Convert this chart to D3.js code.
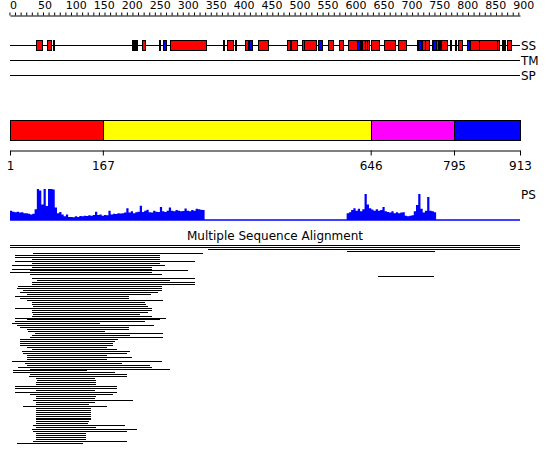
<!DOCTYPE html>
<html>
<head>
<meta charset="utf-8">
<script src="https://cdn.jsdelivr.net/npm/d3@7"></script>
<style>
  body { margin: 0; background: #fff; }
  svg { display: block; font-family: "DejaVu Sans", sans-serif; }
</style>
</head>
<body>
<div id="chart"></div>
<script>
// sequence length
const seqLength = 913;

// ruler labels
const rulerLabels = d3.range(0, 901, 50);

// secondary structure elements (H = helix, E = strand, C = short coil mark)
const ssStart = [47, 67, 78, 219, 221, 237, 268, 275, 288, 381, 389, 404, 421, 428, 445, 497, 503, 524, 527, 552, 569, 590, 605, 622, 628, 631, 636, 640, 646, 670, 695, 728, 731, 737, 743, 755, 757, 763, 768, 771, 787, 797, 802, 818, 824, 840, 872, 880, 885, 889];
const ssEnd   = [57, 74, 79, 221, 229, 242, 269, 280, 353, 382, 400, 405, 426, 433, 462, 503, 514, 527, 549, 560, 578, 598, 622, 628, 630, 636, 640, 644, 661, 689, 710, 731, 737, 743, 750, 757, 763, 767, 769, 782, 788, 798, 810, 822, 840, 872, 875, 881, 886, 897];
const ssType  = ['H', 'H', 'C', 'H', 'C', 'H', 'C', 'E', 'H', 'C', 'H', 'C', 'H', 'E', 'H', 'H', 'H', 'H', 'H', 'E', 'H', 'H', 'H', 'E', 'H', 'H', 'H', 'H', 'H', 'H', 'H', 'H', 'E', 'H', 'H', 'H', 'E', 'H', 'C', 'H', 'C', 'C', 'H', 'E', 'H', 'H', 'H', 'C', 'C', 'H'];

// other tracks
const trackNames = ['SS', 'TM', 'SP'];

// domain boundaries
const domainBounds = [1, 167, 646, 795, 913];
const domainColors = ['#ff0000', '#ffff00', '#ff00ff', '#0000ff'];

// PS profile, 4-residue bins, two regions
const psBin = 4;
const psStart1 = 1;
const psVals1 = [30, 27, 25, 27, 24, 25, 22, 22, 20, 18, 20, 35, 100, 95, 50, 100, 45, 100, 100, 98,
  40, 22, 26, 18, 12, 18, 10, 10, 9, 12, 10, 13, 12, 14, 13, 15, 14, 16, 27, 16,
  18, 14, 16, 15, 30, 18, 20, 19, 22, 21, 22, 24, 38, 24, 28, 22, 25, 27, 46, 26,
  30, 33, 25, 24, 30, 27, 26, 42, 28, 26, 30, 40, 30, 28, 32, 30, 28, 29, 37, 30,
  28, 32, 30, 36, 35, 33, 32];
const psStart2 = 603;
const psVals2 = [22, 25, 32, 38, 30, 36, 28, 35, 84, 50, 38, 34, 30, 35, 30, 32, 42, 28, 26, 24,
  28, 22, 25, 22, 24, 25, 14, 12, 14, 15, 28, 48, 84, 36, 24, 30, 74, 30, 28, 25];

// multiple sequence alignment hits (residue ranges), top to bottom
const msaStart = [1, 1, 355, 603,
  43, 10, 10, 40, 10, 40, 4, 40, 4, 37, 1, 37,
  659,
  40, 49, 40, 40, 16, 13, 25, 19, 31, 10, 19, 31, 40, 40, 43, 10, 40, 40, 43, 40, 10, 31, 10, 4, 13, 19, 31, 34, 46, 40, 37, 19, 19,
  19, 19, 31, 40, 22, 24, 31, 31, 31, 5, 28, 31, 15, 37, 6, 6, 37, 35, 47, 49, 47, 47, 10, 10, 47, 10, 37, 47, 47, 42, 47, 47, 24,
  47, 47, 47, 47, 47, 47, 47, 47, 47, 42, 47, 40, 42, 47, 47, 47, 47, 42, 14];
const msaEnd = [913, 913, 913, 761,
  347, 269, 269, 269, 332, 269, 278, 255, 255, 320, 255, 273,
  759,
  332, 287, 332, 332, 272, 272, 272, 266, 254, 213, 213, 275, 243, 245, 248, 255, 255, 248, 234, 255, 280, 269, 243, 162, 259, 213, 213, 171, 275, 215, 275, 195, 189,
  185, 185, 174, 192, 216, 210, 174, 219, 174, 273, 201, 251, 255, 287, 139, 189, 210, 210, 153, 155, 155, 155, 192, 192, 153, 192, 185, 155, 153, 221, 153, 142, 174,
  146, 146, 146, 146, 146, 146, 146, 142, 140, 207, 155, 228, 210, 137, 137, 137, 137, 210, 132];

const width = 550;
const height = 465;

const svg = d3.select('#chart').append('svg')
  .attr('width', width)
  .attr('height', height);

const x = d3.scaleLinear().domain([1, seqLength]).range([10, 520]);

// Ruler
const ruler = svg.append('g')
  .attr('transform', 'translate(0,15.5)')
  .call(d3.axisTop(x)
    .tickValues(d3.range(0, seqLength, 10))
    .tickSize(3)
    .tickSizeOuter(0)
    .tickPadding(4)
    .tickFormat((d) => (rulerLabels.includes(d) ? d : '')));
ruler.attr('font-family', null).attr('font-size', 11);
ruler.select('.domain').attr('stroke', '#000');
ruler.selectAll('.tick line').attr('stroke', '#000');
ruler.selectAll('.tick text')
  .attr('text-anchor', 'start')
  .attr('fill', '#000');

// Tracks
const trackY = d3.scalePoint().domain(trackNames).range([45, 75]);

trackNames.forEach((name) => {
  const y = trackY(name) + 0.5;
  svg.append('line')
    .attr('x1', x(1)).attr('x2', x(seqLength))
    .attr('y1', y).attr('y2', y)
    .attr('stroke', '#000');
  svg.append('text')
    .attr('x', x(seqLength) + 1)
    .attr('y', y)
    .attr('dy', '0.36em')
    .attr('font-size', 12)
    .text(name);
});

const ssColor = { H: '#ff0000', E: '#0000ff', C: '#000000' };
const ssData = ssStart.map((s, i) => ({ s, e: ssEnd[i], t: ssType[i] }));
const ssOrder = ssData.filter((d) => d.t !== 'C').concat(ssData.filter((d) => d.t === 'C'));

svg.append('g').selectAll('rect')
  .data(ssOrder)
  .enter()
  .append('rect')
  .attr('x', (d) => Math.round(x(d.s)) + 0.5)
  .attr('y', trackY('SS') - 4.5)
  .attr('width', (d) => Math.max(Math.round(x(d.e) - x(d.s)), 1))
  .attr('height', 10)
  .attr('fill', (d) => ssColor[d.t])
  .attr('stroke', '#000');

// Domain bar
const domains = domainColors.map((c, i) => ({ s: domainBounds[i], e: domainBounds[i + 1], c }));
svg.append('g').selectAll('rect')
  .data(domains)
  .enter()
  .append('rect')
  .attr('x', (d) => Math.round(x(d.s)) + 0.5)
  .attr('y', 120.5)
  .attr('width', (d) => Math.round(x(d.e) - x(d.s)))
  .attr('height', 20)
  .attr('fill', (d) => d.c)
  .attr('stroke', '#000');

const dAxis = svg.append('g')
  .attr('transform', 'translate(0,150.5)')
  .call(d3.axisBottom(x)
    .tickValues(domainBounds)
    .tickSize(5)
    .tickSizeOuter(0)
    .tickPadding(6));
dAxis.attr('font-family', null).attr('font-size', 12);
dAxis.select('.domain').attr('stroke', '#000');
dAxis.selectAll('.tick line').attr('stroke', '#000');
dAxis.selectAll('.tick text').attr('fill', '#000');

// PS profile
const psY = d3.scaleLinear().domain([0, 100]).range([220, 189]);
const psArea = d3.area()
  .curve(d3.curveStepAfter)
  .x((d) => x(d.r))
  .y0(psY(0))
  .y1((d) => psY(d.v));

function psPoints(start, vals) {
  const pts = vals.map((v, i) => ({ r: start + i * psBin, v }));
  pts.push({ r: start + vals.length * psBin, v: vals[vals.length - 1] });
  return pts;
}

svg.append('line')
  .attr('x1', x(1)).attr('x2', x(seqLength))
  .attr('y1', 220).attr('y2', 220)
  .attr('stroke', '#0000ff')
  .attr('stroke-width', 1.5);

svg.append('g').selectAll('path')
  .data([psPoints(psStart1, psVals1), psPoints(psStart2, psVals2)])
  .enter()
  .append('path')
  .attr('d', psArea)
  .attr('fill', '#0000ff');

svg.append('text')
  .attr('x', x(seqLength) + 1)
  .attr('y', 195)
  .attr('dy', '0.36em')
  .attr('font-size', 12)
  .text('PS');

// Multiple sequence alignment
svg.append('text')
  .attr('x', 275)
  .attr('y', 240)
  .attr('text-anchor', 'middle')
  .attr('font-size', 12)
  .text('Multiple Sequence Alignment');

const msaY = d3.scalePoint().domain(d3.range(msaStart.length)).range([245, 443]);

svg.append('g').selectAll('line')
  .data(msaStart.map((s, i) => ({ s, e: msaEnd[i], i })))
  .enter()
  .append('line')
  .attr('x1', (d) => x(d.s))
  .attr('x2', (d) => x(d.e))
  .attr('y1', (d) => Math.round(msaY(d.i)) + 0.5)
  .attr('y2', (d) => Math.round(msaY(d.i)) + 0.5)
  .attr('stroke', '#000')
  .attr('shape-rendering', 'crispEdges');
</script>
</body>
</html>
